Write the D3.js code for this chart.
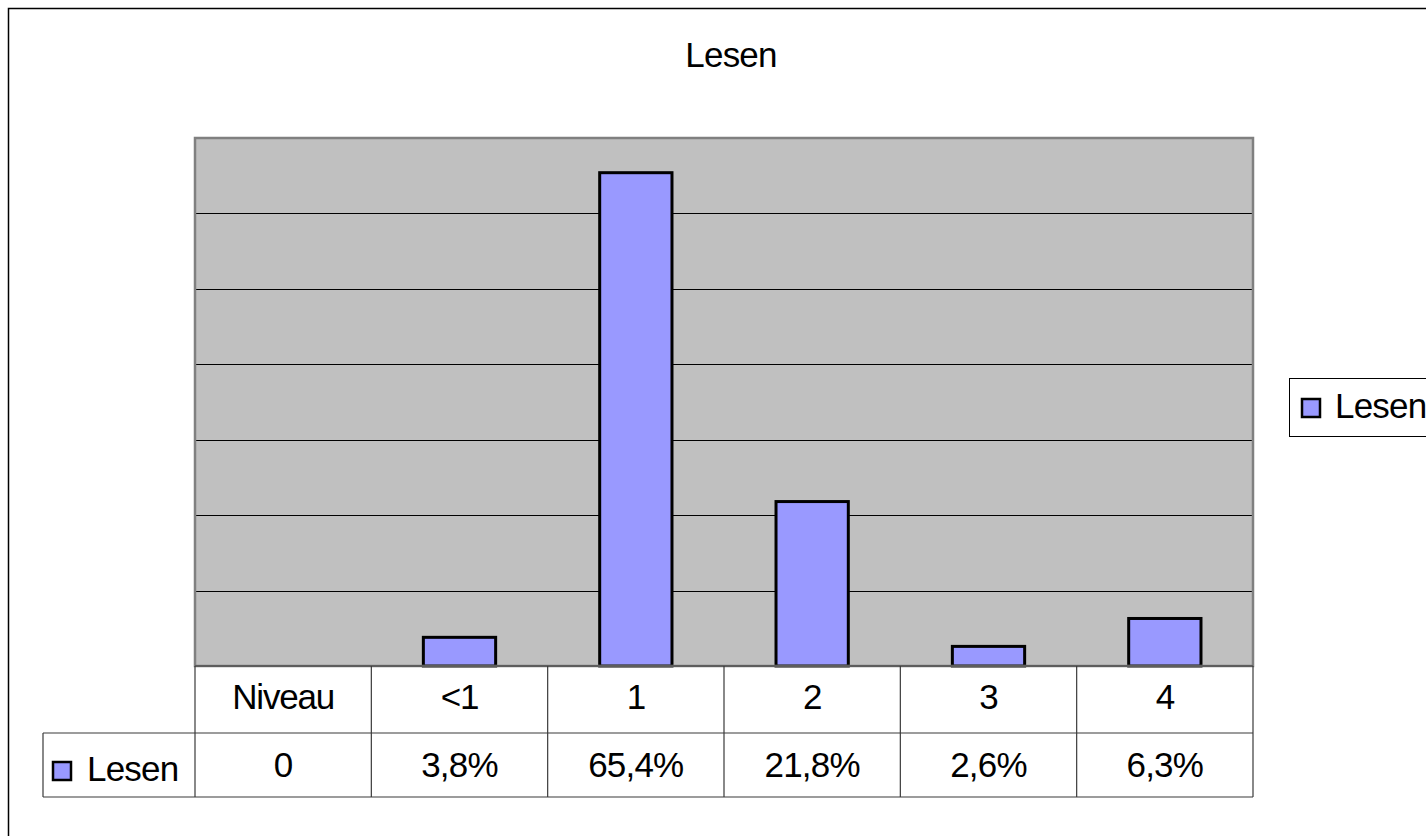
<!DOCTYPE html>
<html>
<head>
<meta charset="utf-8">
<script src="https://cdn.jsdelivr.net/npm/d3@7/dist/d3.min.js"></script>
<style>
  body { margin: 0; background: #ffffff; }
  svg text { font-family: "Liberation Sans", Arial, sans-serif; fill: #000; }
</style>
</head>
<body>
<svg id="chart" width="1426" height="836"></svg>
<script>
// data
var categories = ["Niveau", "<1", "1", "2", "3", "4"];
var values = [0, 3.8, 65.4, 21.8, 2.6, 6.3];
var valueLabels = ["0", "3,8%", "65,4%", "21,8%", "2,6%", "6,3%"];
var yTicks = [0, 10, 20, 30, 40, 50, 60, 70];
var seriesName = "Lesen";

var BAR_FILL = "#9999ff";
var PLOT_FILL = "#c0c0c0";
var FONT = 35;

var svg = d3.select("#chart");

// outer frame (runs off the right/bottom of the picture)
svg.append("rect")
    .attr("x", 8.5).attr("y", 8.5)
    .attr("width", 1440).attr("height", 860)
    .attr("fill", "#ffffff")
    .attr("stroke", "#000000")
    .attr("stroke-width", 1.5);

// title
svg.append("text")
    .attr("x", 731).attr("y", 67)
    .attr("text-anchor", "middle")
    .attr("font-size", FONT)
    .attr("letter-spacing", -0.8)
    .text(seriesName);

var plot = {left: 195, right: 1253, top: 138, bottom: 666};

var x = d3.scaleBand()
    .domain(categories)
    .range([plot.left, plot.right])
    .padding(0);

var y = d3.scaleLinear()
    .domain([0, 70])
    .range([plot.bottom, plot.top]);

var bars = categories.map(function(c, i) { return {cat: c, value: values[i]}; })
    .filter(function(d) { return d.value > 0; });

// plot background
svg.append("rect")
    .attr("x", plot.left).attr("y", plot.top)
    .attr("width", plot.right - plot.left)
    .attr("height", plot.bottom - plot.top)
    .attr("fill", PLOT_FILL);

// gridlines
svg.append("g")
    .selectAll("line")
    .data(yTicks.slice(1, -1))
    .join("line")
    .attr("x1", plot.left).attr("x2", plot.right)
    .attr("y1", function(d) { return Math.round(y(d)) + 0.5; })
    .attr("y2", function(d) { return Math.round(y(d)) + 0.5; })
    .attr("stroke", "#000000")
    .attr("stroke-width", 1);

// bars
var bw = x.bandwidth() * 0.41;
svg.append("g")
    .selectAll("rect")
    .data(bars)
    .join("rect")
    .attr("x", function(d) { return x(d.cat) + (x.bandwidth() - bw) / 2; })
    .attr("y", function(d) { return y(d.value); })
    .attr("width", bw)
    .attr("height", function(d) { return plot.bottom - y(d.value); })
    .attr("fill", BAR_FILL)
    .attr("stroke", "#000000")
    .attr("stroke-width", 3);

// plot border
svg.append("rect")
    .attr("x", plot.left).attr("y", plot.top)
    .attr("width", plot.right - plot.left)
    .attr("height", plot.bottom - plot.top)
    .attr("fill", "none")
    .attr("stroke", "#808080")
    .attr("stroke-width", 2.5);

// data table
var rowH = 66;
var row1 = plot.bottom, row2 = plot.bottom + rowH + 1, tableBottom = row2 + 64;
var tableLeft = 43;
var table = svg.append("g").attr("stroke", "#3a3a3a").attr("stroke-width", 1.2);

table.append("line")
    .attr("x1", plot.left).attr("x2", plot.right)
    .attr("y1", row1).attr("y2", row1);
table.append("line")
    .attr("x1", tableLeft).attr("x2", plot.right)
    .attr("y1", row2).attr("y2", row2);
table.append("line")
    .attr("x1", tableLeft).attr("x2", plot.right)
    .attr("y1", tableBottom).attr("y2", tableBottom);
table.append("line")
    .attr("x1", tableLeft).attr("x2", tableLeft)
    .attr("y1", row2).attr("y2", tableBottom);

table.selectAll("line.col")
    .data(categories.concat(["end"]))
    .join("line")
    .attr("class", "col")
    .attr("x1", function(d) { return d === "end" ? plot.right : x(d); })
    .attr("x2", function(d) { return d === "end" ? plot.right : x(d); })
    .attr("y1", row1)
    .attr("y2", tableBottom);

svg.append("g")
    .selectAll("text")
    .data(categories)
    .join("text")
    .attr("x", function(d) { return x(d) + x.bandwidth() / 2; })
    .attr("y", row1 + 43)
    .attr("text-anchor", "middle")
    .attr("font-size", FONT)
    .attr("letter-spacing", -1.2)
    .text(function(d) { return d; });

svg.append("g")
    .selectAll("text")
    .data(valueLabels)
    .join("text")
    .attr("x", function(d, i) { return x(categories[i]) + x.bandwidth() / 2; })
    .attr("y", row2 + 44)
    .attr("text-anchor", "middle")
    .attr("font-size", FONT)
    .attr("letter-spacing", -0.8)
    .text(function(d) { return d; });

// series key in the table
svg.append("rect")
    .attr("x", 53).attr("y", 762)
    .attr("width", 18).attr("height", 18)
    .attr("fill", BAR_FILL)
    .attr("stroke", "#000000")
    .attr("stroke-width", 2.5);
svg.append("text")
    .attr("x", 87).attr("y", 781)
    .attr("font-size", FONT)
    .attr("letter-spacing", -0.8)
    .text(seriesName);

// legend
var legend = svg.append("g");
legend.append("rect")
    .attr("x", 1289.5).attr("y", 378.5)
    .attr("width", 160).attr("height", 58)
    .attr("fill", "#ffffff")
    .attr("stroke", "#000000")
    .attr("stroke-width", 1);
legend.append("rect")
    .attr("x", 1302).attr("y", 399)
    .attr("width", 18).attr("height", 18)
    .attr("fill", BAR_FILL)
    .attr("stroke", "#000000")
    .attr("stroke-width", 2.5);
legend.append("text")
    .attr("x", 1335).attr("y", 418)
    .attr("font-size", FONT)
    .attr("letter-spacing", -0.8)
    .text(seriesName);
</script>
</body>
</html>
